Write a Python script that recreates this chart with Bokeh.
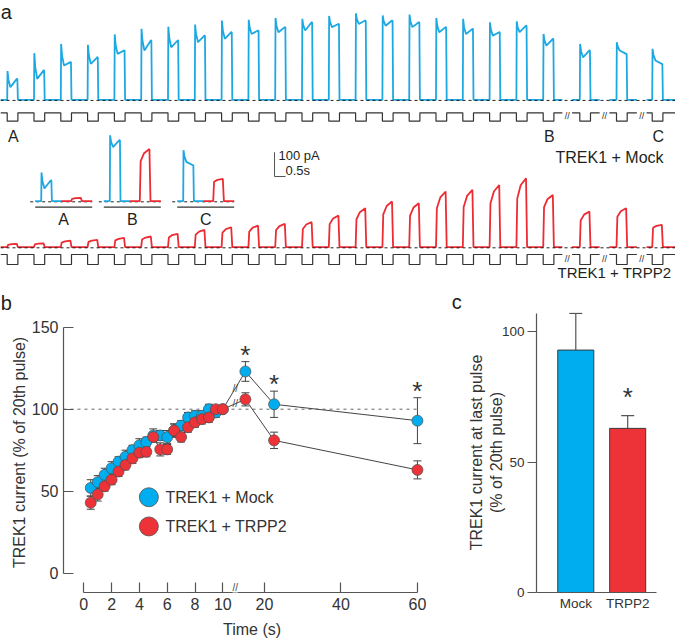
from bokeh.plotting import figure
from bokeh.models import Range1d, Label, Whisker, ColumnDataSource, FixedTicker
from bokeh.layouts import column, row
from bokeh.embed import file_html
from bokeh.resources import INLINE
from bokeh.core.properties import value

# ---------------- data ----------------
# Panel a: per-pulse TREK1 current amplitudes (pA), 21 pulses + 3 late pulses
blue_peak = [118, 192, 230, 226, 269, 292, 301, 310, 326, 329, 337, 333, 345, 356, 347, 351, 337, 333, 319, 323, 271, 230, 237, 210]
blue_dip = [52, 86, 141, 148, 189, 203, 216, 237, 251, 271, 278, 285, 299, 312, 305, 299, 278, 271, 264, 278, 223, 175, 203, 162]
blue_end = [86, 121, 155, 175, 203, 244, 244, 264, 278, 285, 299, 319, 312, 326, 326, 319, 299, 292, 278, 305, 251, 203, 189, 148]
red_start = [10, 12, 19, 22, 28, 32, 40, 52, 60, 64, 70, 75, 95, 115, 135, 130, 160, 165, 180, 200, 165, 110, 125, 80]
red_end = [14, 16, 27, 30, 38, 44, 55, 71, 82, 89, 96, 103, 130, 160, 188, 181, 229, 236, 256, 284, 215, 147, 160, 92]
inset_names = ["A", "B", "C"]
inset_index = [0, 20, 23]

# Panel b
time_s = [0.5, 1.0, 1.5, 2.0, 2.5, 3.0, 3.5, 4.0, 4.5, 5.0, 5.5, 6.0, 6.5, 7.0, 7.5, 8.0, 8.5, 9.0, 9.5, 10.0, 15.0, 22.5, 60.0]
mock_mean = [52, 55.5, 60, 64, 68, 71, 75, 78, 80, 84, 84, 83, 87, 90, 95, 96, 96, 100, 98, 100, 123, 103, 93]
mock_sem = [5, 4, 4, 4, 3, 4, 3, 4, 3, 4, 3, 4, 4, 3, 3, 3, 3, 3, 3, 2, 6, 8, 14]
trpp2_mean = [43, 48, 53, 57, 62, 66, 70, 73.5, 74, 83, 75.5, 75.5, 87, 83, 89, 92, 94, 95, 100, 100, 106, 81, 63]
trpp2_sem = [4, 4, 3, 3, 3, 3, 3, 3, 3, 3, 4, 3, 4, 3, 3, 3, 3, 3, 2, 2, 4, 5, 5.5]
x_tick_times = [0, 2, 4, 6, 8, 10, 20, 40, 60]
y_ticks_b = [0, 50, 100, 150]

# Panel c
groups = ["Mock", "TRPP2"]
last_mean = [92.9, 62.9]
last_sem = [14.1, 4.9]
y_ticks_c = [0, 50, 100]

# ---------------- style ----------------
FONT = "Liberation Sans"
BLUE = "#00AEEF"
RED = "#EE3338"
BLUE_TR = "#1DA8E2"
RED_TR = "#EC2B33"
TXT = "#231F20"
AX = "#555555"


def fs(px):
    return f"{px:.1f}px"


def txt(p, x, y, t, size, align="left", baseline="middle", color=TXT):
    p.text(x=[x], y=[y], text=[t], text_font=value(FONT), text_font_size=value(fs(size)),
           text_align=value(align), text_baseline=value(baseline), text_color=color)


# ================= Panel a (traces) =================
PX_PER_S = 22.0      # pixels per second of trace
PA_PER_PX = 4.115    # pA per pixel (100 pA bar = 24.3 px)
A_H = 312


def tx(xr):
    return (xr - 6.7) / PX_PER_S


def py(yr):
    return (246.7 - yr) * PA_PER_PX


pa = figure(width=675, height=A_H, x_range=Range1d(tx(0), tx(675)), y_range=Range1d(py(A_H), py(0)),
            output_backend="svg", toolbar_location=None, min_border=0, outline_line_color=None,
            x_axis_location=None, y_axis_location=None)
pa.grid.visible = False

PERIOD = 26.8 / PX_PER_S
WIDTH = 0.486
starts = [k * PERIOD for k in range(21)] + [tx(579.3), tx(616.0), tx(651.7)]
breaks = [tx(566.7), tx(604.0), tx(641.2)]
GAP = 0.22
seg_bounds = [(tx(0), breaks[0] - GAP), (breaks[0] + GAP, breaks[1] - GAP),
              (breaks[1] + GAP, breaks[2] - GAP), (breaks[2] + GAP, tx(675))]

BLUE_BASE = py(99.3)
RED_BASE = 0.0


def blue_shape(t0, i):
    pk, dp, en = blue_peak[i], blue_dip[i], blue_end[i]
    w = WIDTH
    xs = [t0, t0 + 0.03 * w, t0 + 0.12 * w, t0 + 0.3 * w, t0 + 0.9 * w, t0 + 0.95 * w, t0 + w]
    ys = [0, pk, dp + 0.45 * (pk - dp), dp, en, en, 0]
    return xs, ys


def red_shape(t0, i):
    st, en = red_start[i], red_end[i]
    w = WIDTH
    xs = [t0, t0 + 0.08 * w, t0 + 0.4 * w, t0 + 0.9 * w, t0 + w]
    ys = [0, st, st + 0.65 * (en - st), en, 0]
    return xs, ys


def build(shape, base):
    X, Y = [], []
    for a, b in seg_bounds:
        xs, ys = [a], [base]
        for i, t0 in enumerate(starts):
            if a < t0 < b:
                sx, sy = shape(t0, i)
                xs += sx
                ys += [base + v for v in sy]
        xs.append(b)
        ys.append(base)
        X.append(xs)
        Y.append(ys)
    return X, Y


def protocol(hi, lo):
    X, Y = [], []
    for a, b in seg_bounds:
        xs, ys = [a], [hi]
        for t0 in starts:
            if a < t0 < b:
                xs += [t0, t0, t0 + WIDTH, t0 + WIDTH]
                ys += [hi, lo, lo, hi]
        xs.append(b)
        ys.append(hi)
        X.append(xs)
        Y.append(ys)
    return X, Y


bx, by = build(blue_shape, BLUE_BASE)
pa.multi_line(bx, by, line_color=BLUE_TR, line_width=1.8)
rx, ry = build(red_shape, RED_BASE)
pa.multi_line(rx, ry, line_color=RED_TR, line_width=1.8)

# dashed baselines
for base in (BLUE_BASE, RED_BASE):
    pa.line([tx(0), tx(675)], [base - 2.5, base - 2.5], line_color="#222222", line_width=1, line_dash="3 3")

# voltage protocols
for hi, lo in ((py(112.3), py(120.7)), (py(254.0), py(264.0))):
    px_, py_ = protocol(hi, lo)
    pa.multi_line(px_, py_, line_color="#333333", line_width=1.2)
    for bk in breaks:
        txt(pa, bk, (hi + lo) / 2 + 4, "//", 9, align="center")

# labels under blue trace
for name, idx in zip(inset_names, inset_index):
    txt(pa, starts[idx] + 0.28, py(135.5), name, 16, align="center")
txt(pa, tx(555), py(156.7), "TREK1 + Mock", 16)
txt(pa, tx(557), py(272), "TREK1 + TRPP2", 15)

# inset: pulses A, B, C compared
INSET_BASE = py(200.7)
inset_blue_x = [tx(40.7), tx(109.3), tx(182.7)]
RED_SHIFT = 30 / PX_PER_S
for name, idx, b0 in zip(inset_names, inset_index, inset_blue_x):
    left = b0 - 6 / PX_PER_S
    mid = b0 + 20 / PX_PER_S
    right = b0 + 51 / PX_PER_S
    pa.line([left - 5 / PX_PER_S, right], [INSET_BASE - 2.5] * 2, line_color="#222222", line_width=1, line_dash="3 3")
    sx, sy = blue_shape(b0, idx)
    pa.line([left] + sx + [mid], [INSET_BASE] + [INSET_BASE + v for v in sy] + [INSET_BASE],
            line_color=BLUE_TR, line_width=1.8)
    sx, sy = red_shape(b0 + RED_SHIFT, idx)
    pa.line([mid] + sx + [right], [INSET_BASE] + [INSET_BASE + v for v in sy] + [INSET_BASE],
            line_color=RED_TR, line_width=1.8)
    pa.line([left, right], [py(206.7)] * 2, line_color="#333333", line_width=1.2)
    txt(pa, (left + right) / 2, py(219.3), name, 16, align="center")

# scale bar
sb_x, sb_y = tx(274), py(176)
pa.line([sb_x, sb_x, sb_x + 0.5], [sb_y + 100, sb_y, sb_y], line_color="#555555", line_width=1)
txt(pa, sb_x + 4 / PX_PER_S, py(155), "100 pA", 13)
txt(pa, sb_x + 0.5, py(170), "0.5s", 13)

# panel letters (drawn in the top canvas, which spans the full page width)
for letter, lx, ly in (("a", 0.3, 11.7), ("b", 0.3, 302.0), ("c", 451.3, 301.5)):
    txt(pa, tx(lx), py(ly), letter, 20, baseline="alphabetic")

# ================= Panel b =================


def brk(t):
    return t if t <= 10.5 else 13.0 + (t - 20.0) * 0.275


u = [brk(t) for t in time_s]
B_H = 641 - A_H
pb = figure(width=450, height=B_H, x_range=Range1d(-1.46, 25.66), y_range=Range1d(-11.77, 158.96),
            min_border_left=63, min_border_right=10, min_border_top=0, min_border_bottom=49,
            output_backend="svg", toolbar_location=None, outline_line_color=None)
pb.grid.visible = False

yax = pb.yaxis[0]
yax.bounds = (0, 150)
yax.ticker = FixedTicker(ticks=y_ticks_b)
yax.major_tick_in = 10
yax.major_tick_out = 0
yax.minor_tick_line_color = None
yax.axis_label = "TREK1 current (% of 20th pulse)"
yax.axis_label_standoff = 1
yax.major_label_standoff = 5

xax = pb.xaxis[0]
xt = [brk(t) for t in x_tick_times]
xax.bounds = (0, brk(60))
xax.ticker = FixedTicker(ticks=xt)
xax.major_label_overrides = {v: str(t) for v, t in zip(xt, x_tick_times)}
xax.major_tick_in = 10
xax.major_tick_out = 0
xax.minor_tick_line_color = None
xax.axis_label = "Time (s)"
xax.axis_label_standoff = 8
xax.major_label_standoff = 5

for ax in (yax, xax):
    ax.axis_line_color = AX
    ax.major_tick_line_color = AX
    ax.axis_line_width = 1.2
    ax.major_tick_line_width = 1.2
    ax.major_label_text_font = FONT
    ax.major_label_text_font_size = fs(16)
    ax.major_label_text_color = "#333333"
    ax.axis_label_text_font = FONT
    ax.axis_label_text_font_size = fs(16)
    ax.axis_label_text_font_style = "normal"
    ax.axis_label_text_color = "#333333"

# 100 % reference
pb.line([-1.46, brk(60)], [100, 100], line_color="#666666", line_width=1, line_dash="3 4")

# connecting lines
pb.line(u, mock_mean, line_color="#444444", line_width=1)
pb.line(u, trpp2_mean, line_color="#444444", line_width=1)

# error bars
for mean, sem in ((mock_mean, mock_sem), (trpp2_mean, trpp2_sem)):
    src = ColumnDataSource(dict(x=u, lo=[m - e for m, e in zip(mean, sem)], hi=[m + e for m, e in zip(mean, sem)]))
    w = Whisker(base="x", lower="lo", upper="hi", source=src, level="underlay", line_color="#444444", line_width=1)
    w.upper_head.size = 8
    w.lower_head.size = 8
    w.upper_head.line_color = "#444444"
    w.lower_head.line_color = "#444444"
    pb.add_layout(w)

pb.scatter(u, mock_mean, size=11, fill_color=BLUE, line_color="#4D4D4D", line_width=0.7)
pb.scatter(u, trpp2_mean, size=11, fill_color=RED, line_color="#4D4D4D", line_width=0.7)

# break marks on the connecting lines and on the time axis
u_b = 10.9
for mean in (mock_mean, trpp2_mean):
    yb = mean[19] + (mean[20] - mean[19]) * (u_b - u[19]) / (u[20] - u[19])
    txt(pb, u_b, yb, "//", 10, align="center", color="#444444")
pb.add_layout(Label(x=u_b, y=0, y_units="screen", y_offset=5, text="//", text_font=FONT, text_font_size=fs(10),
                    text_color="#444444", text_align="center", text_baseline="middle",
                    background_fill_color="white"))

# significance
sig = [i for i in range(20, 23)]
pb.text(x=[u[i] for i in sig], y=[mock_mean[i] + mock_sem[i] for i in sig], text=["*"] * len(sig),
        text_font=value(FONT), text_font_size=value(fs(26)), text_align=value("center"),
        text_baseline=value("alphabetic"), y_offset=-7, text_color="#333333")

# legend
pb.scatter([4.68, 4.68], [46.3, 28.5], size=19, fill_color=[BLUE, RED], line_color="#4D4D4D", line_width=0.8)
txt(pb, 5.88, 46.3, "TREK1 + Mock", 16, color="#333333")
txt(pb, 5.88, 28.5, "TREK1 + TRPP2", 16, color="#333333")

# ================= Panel c =================
pc = figure(width=225, height=B_H, x_range=Range1d(0.243, 2.921), y_range=Range1d(0, 107.3),
            min_border_left=86, min_border_right=0, min_border_top=0, min_border_bottom=19,
            output_backend="svg", toolbar_location=None, outline_line_color=None)
pc.grid.visible = False
xc = [1, 2]
src_c = ColumnDataSource(dict(x=xc, top=last_mean, hi=[m + e for m, e in zip(last_mean, last_sem)],
                              color=[BLUE, RED]))
wc = Whisker(base="x", lower="top", upper="hi", source=src_c, level="underlay", line_color="#555555",
             line_width=1.2, lower_head=None)
wc.upper_head.size = 13
wc.upper_head.line_color = "#555555"
wc.upper_head.line_width = 1.2
pc.add_layout(wc)
pc.vbar(x="x", top="top", width=0.694, fill_color="color", line_color="#3A3A3A", line_width=1, source=src_c)

cy = pc.yaxis[0]
cy.bounds = (0, 107)
cy.ticker = FixedTicker(ticks=y_ticks_c)
cy.major_tick_out = 9
cy.major_tick_in = 0
cy.minor_tick_line_color = None
cy.axis_label = "TREK1 current at last pulse\n(% of 20th pulse)"
cy.axis_label_standoff = -6
cy.major_label_standoff = 3
cy.major_label_text_font_size = fs(13.5)

cx = pc.xaxis[0]
cx.bounds = (0.243, 2.555)
cx.ticker = FixedTicker(ticks=xc)
cx.major_label_overrides = {x: g for x, g in zip(xc, groups)}
cx.major_tick_out = 0
cx.major_tick_in = 0
cx.minor_tick_line_color = None
cx.major_label_standoff = 3
cx.major_label_text_font_size = fs(13.5)

for ax in (cy, cx):
    ax.axis_line_color = AX
    ax.major_tick_line_color = AX
    ax.axis_line_width = 1.2
    ax.major_tick_line_width = 1.2
    ax.major_label_text_font = FONT
    ax.major_label_text_color = "#333333"
    ax.axis_label_text_font = FONT
    ax.axis_label_text_font_size = fs(16)
    ax.axis_label_text_font_style = "normal"
    ax.axis_label_text_color = "#333333"

pc.text(x=[2], y=[last_mean[1] + last_sem[1] + 7.3], text=["*"], text_font=value(FONT),
        text_font_size=value(fs(26)), text_align=value("center"), text_baseline=value("alphabetic"),
        text_color="#333333")

layout = column(pa, row(pb, pc))
open("out.html", "w").write(file_html(layout, INLINE))
